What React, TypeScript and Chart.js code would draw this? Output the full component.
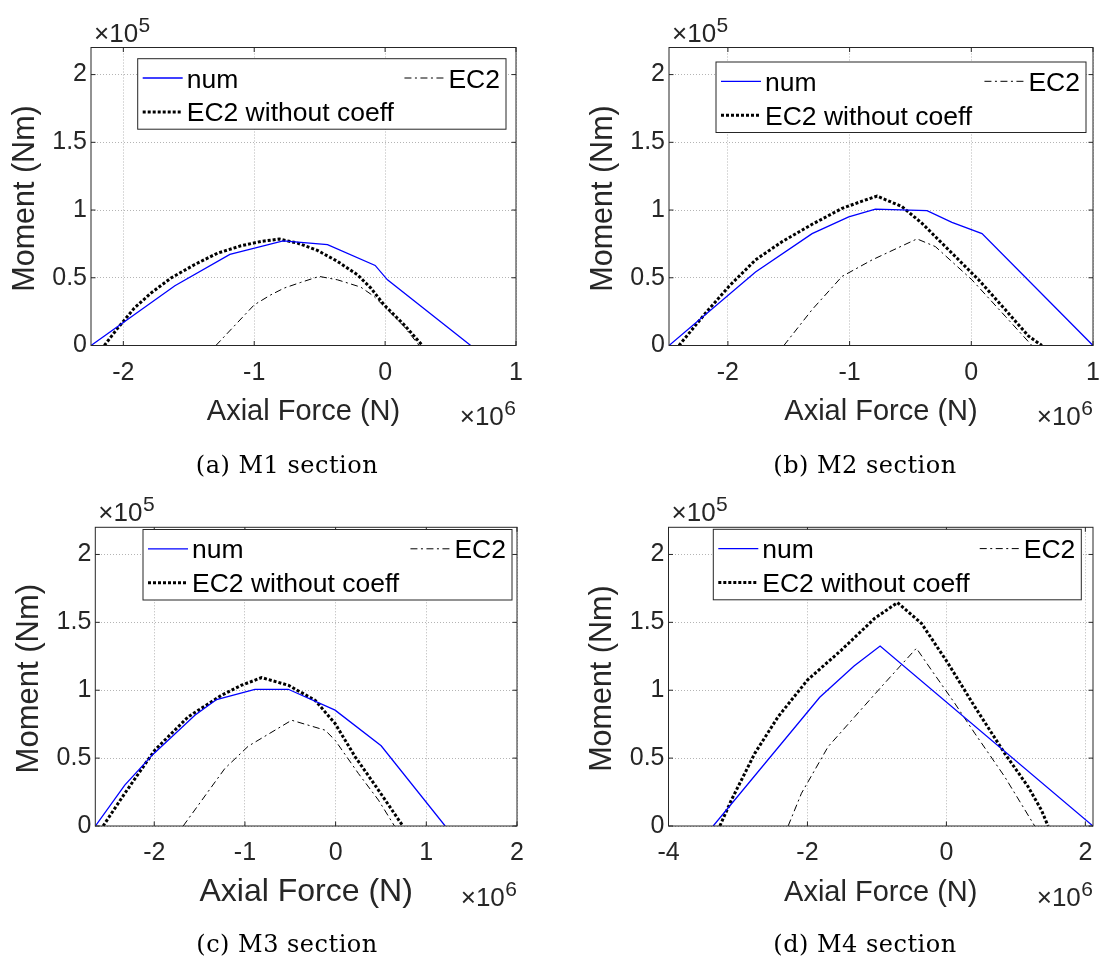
import React, { useEffect, useRef } from "react";
import { Chart, registerables } from "chart.js";

Chart.register(...registerables);

const SANS = '"Liberation Sans", Arial, Helvetica, sans-serif';
const SERIF = '"DejaVu Serif", "Liberation Serif", serif';
const AXIS = "#262626";

// ---------- data (N in 1e6 N, M in 1e5 Nm) ----------
const seriesLabels = ["num", "EC2 without coeff", "EC2"];

const yTicks = [0, 0.5, 1, 1.5, 2];
const yTickLabels = ["0", "0.5", "1", "1.5", "2"];

const m1XTicks = [-2, -1, 0, 1];
const m1XTickLabels = ["-2", "-1", "0", "1"];
const m1NumN = [-2.247, -1.606, -1.186, -0.779, -0.44, -0.076, 0.018, 0.654];
const m1NumM = [0, 0.441, 0.672, 0.773, 0.744, 0.591, 0.485, 0];
const m1EcnN = [-2.145, -2.043, -1.916, -1.789, -1.636, -1.458, -1.28, -1.102, -0.949, -0.809, -0.669, -0.517, -0.364, -0.211, -0.109, -0.008, 0.145, 0.285];
const m1EcnM = [0, 0.128, 0.276, 0.387, 0.498, 0.596, 0.682, 0.736, 0.768, 0.786, 0.756, 0.702, 0.621, 0.522, 0.424, 0.3, 0.153, 0];
const m1EcN = [-1.293, -1.0, -0.873, -0.771, -0.644, -0.504, -0.364, -0.186, -0.084, 0.018, 0.145, 0.26];
const m1EcM = [0, 0.3, 0.374, 0.424, 0.466, 0.51, 0.485, 0.431, 0.362, 0.264, 0.14, 0];

const m2XTicks = [-2, -1, 0, 1];
const m2XTickLabels = ["-2", "-1", "0", "1"];
const m2NumN = [-2.484, -1.773, -1.308, -1.007, -0.788, -0.364, -0.159, 0.088, 1.0];
const m2NumM = [0, 0.542, 0.826, 0.949, 1.007, 0.995, 0.909, 0.826, 0];
const m2EcnN = [-2.402, -2.183, -1.992, -1.773, -1.554, -1.308, -1.062, -0.897, -0.774, -0.569, -0.405, -0.186, 0.06, 0.279, 0.471, 0.58];
const m2EcnM = [0, 0.24, 0.436, 0.632, 0.767, 0.895, 1.012, 1.066, 1.103, 1.025, 0.902, 0.706, 0.485, 0.265, 0.069, 0];
const m2EcN = [-1.54, -1.308, -1.062, -0.815, -0.446, -0.295, 0.005, 0.279, 0.498];
const m2EcM = [0, 0.265, 0.51, 0.632, 0.787, 0.73, 0.485, 0.216, 0];

const m3XTicks = [-2, -1, 0, 1, 2];
const m3XTickLabels = ["-2", "-1", "0", "1", "2"];
const m3NumN = [-2.649, -2.325, -2.012, -1.552, -1.313, -0.89, -0.522, -0.006, 0.502, 1.208];
const m3NumM = [0, 0.301, 0.529, 0.816, 0.931, 1.007, 1.007, 0.853, 0.591, 0];
const m3EcnN = [-2.564, -2.325, -1.994, -1.626, -1.258, -1.037, -0.816, -0.522, -0.227, -0.006, 0.215, 0.472, 0.741];
const m3EcnM = [0, 0.24, 0.559, 0.804, 0.963, 1.037, 1.093, 1.037, 0.926, 0.755, 0.51, 0.265, 0];
const m3EcN = [-1.681, -1.221, -0.963, -0.485, -0.117, -0.006, 0.251, 0.472, 0.649];
const m3EcM = [0, 0.424, 0.588, 0.779, 0.706, 0.632, 0.387, 0.191, 0];

const m4XTicks = [-4, -2, 0, 2];
const m4XTickLabels = ["-4", "-2", "0", "2"];
const m4NumN = [-3.357, -1.823, -1.329, -0.954, 2.11];
const m4NumM = [0, 0.948, 1.178, 1.326, 0];
const m4EcnN = [-3.261, -3.094, -2.758, -2.422, -2.0, -1.511, -1.031, -0.705, -0.36, 0.024, 0.408, 0.839, 1.175, 1.367, 1.463];
const m4EcnM = [0, 0.192, 0.535, 0.805, 1.075, 1.296, 1.53, 1.645, 1.493, 1.198, 0.879, 0.535, 0.29, 0.118, 0];
const m4EcN = [-2.278, -2.086, -1.703, -1.319, -0.935, -0.432, -0.216, 0.12, 0.408, 0.839, 1.271];
const m4EcM = [0, 0.241, 0.584, 0.805, 1.026, 1.309, 1.149, 0.904, 0.683, 0.363, 0];

const xRanges = [
  [-2.247, 1],
  [-2.484, 1],
  [-2.65, 2],
  [-4, 2.11],
];
const yRange = [0, 2.2];
const captions = ["(a) M1 section", "(b) M2 section", "(c) M3 section", "(d) M4 section"];
const xTitle = "Axial Force (N)";
const yTitle = "Moment (Nm)";

// ---------- layout (page pixels) ----------
type Panel = {
  idx: number;
  cx: number; cy: number; cw: number; ch: number;
  L: number; R: number; T: number; B: number;
  legL: number; legT: number; legR: number;
  capX: number; capY: number;
  xlabSize: number; ylabSize: number;
  xTicks: number[]; xTickLabels: string[];
  num: [number[], number[]]; ecn: [number[], number[]]; ec: [number[], number[]];
};

const panels: Panel[] = [
  { idx: 0, cx: 0, cy: 0, cw: 540, ch: 480, L: 91, R: 516, T: 47.5, B: 345.5,
    legL: 137.7, legT: 58.7, legR: 506, capX: 287, capY: 472.7, xlabSize: 29, ylabSize: 30.5,
    xTicks: m1XTicks, xTickLabels: m1XTickLabels, num: [m1NumN, m1NumM], ecn: [m1EcnN, m1EcnM], ec: [m1EcN, m1EcM] },
  { idx: 1, cx: 540, cy: 0, cw: 559, ch: 480, L: 669, R: 1093, T: 47.5, B: 345.5,
    legL: 716, legT: 62, legR: 1086, capX: 865, capY: 472.7, xlabSize: 29, ylabSize: 30.5,
    xTicks: m2XTicks, xTickLabels: m2XTickLabels, num: [m2NumN, m2NumM], ecn: [m2EcnN, m2EcnM], ec: [m2EcN, m2EcM] },
  { idx: 2, cx: 0, cy: 480, cw: 540, ch: 481, L: 95.3, R: 517, T: 527.3, B: 826,
    legL: 143, legT: 529.5, legR: 512, capX: 287, capY: 952, xlabSize: 32, ylabSize: 31,
    xTicks: m3XTicks, xTickLabels: m3XTickLabels, num: [m3NumN, m3NumM], ecn: [m3EcnN, m3EcnM], ec: [m3EcN, m3EcM] },
  { idx: 3, cx: 540, cy: 480, cw: 559, ch: 481, L: 668.5, R: 1093, T: 527.3, B: 826,
    legL: 713.3, legT: 529.3, legR: 1081.3, capX: 865, capY: 952, xlabSize: 29, ylabSize: 30.5,
    xTicks: m4XTicks, xTickLabels: m4XTickLabels, num: [m4NumN, m4NumM], ecn: [m4EcnN, m4EcnM], ec: [m4EcN, m4EcM] },
];

function pts(xs: number[], ys: number[]) {
  return xs.map((x, i) => ({ x, y: ys[i] }));
}

function drawLegendSample(ctx: CanvasRenderingContext2D, ds: any, x0: number, x1: number, y: number) {
  ctx.save();
  ctx.strokeStyle = ds.borderColor;
  ctx.lineWidth = ds.borderWidth;
  ctx.setLineDash(ds.borderDash || []);
  ctx.beginPath();
  ctx.moveTo(x0, y);
  ctx.lineTo(x1, y);
  ctx.stroke();
  ctx.restore();
}

function makeDecor(p: Panel) {
  return {
    id: "decor" + p.idx,
    afterDatasetsDraw(chart: any) {
      const ctx: CanvasRenderingContext2D = chart.ctx;
      const a = chart.chartArea;
      const xs = chart.scales.x;
      const ys = chart.scales.y;
      ctx.save();
      // axes box + inward ticks
      ctx.strokeStyle = AXIS;
      ctx.lineWidth = 1;
      ctx.setLineDash([]);
      const tl = 4.5;
      ctx.beginPath();
      for (const v of p.xTicks) {
        const px = xs.getPixelForValue(v);
        ctx.moveTo(px, a.bottom);
        ctx.lineTo(px, a.bottom - tl);
        ctx.moveTo(px, a.top);
        ctx.lineTo(px, a.top + tl);
      }
      for (const v of yTicks) {
        const py = ys.getPixelForValue(v);
        ctx.moveTo(a.left, py);
        ctx.lineTo(a.left + tl, py);
        ctx.moveTo(a.right, py);
        ctx.lineTo(a.right - tl, py);
      }
      ctx.stroke();
      ctx.strokeRect(a.left, a.top, a.right - a.left, a.bottom - a.top);

      // legend
      const lx = p.legL - p.cx;
      const ty = p.legT - p.cy;
      const rx = p.legR - p.cx;
      const lh = 70.5;
      ctx.fillStyle = "#ffffff";
      ctx.fillRect(lx, ty, rx - lx, lh);
      ctx.strokeStyle = AXIS;
      ctx.lineWidth = 1;
      ctx.strokeRect(lx, ty, rx - lx, lh);
      const dsets = chart.data.datasets;
      ctx.font = `26.5px ${SANS}`;
      ctx.fillStyle = "#000000";
      ctx.textBaseline = "alphabetic";
      const b1 = ty + 28.8;
      const b2 = ty + 62.7;
      drawLegendSample(ctx, dsets[0], lx + 5, lx + 45, b1 - 9.5);
      ctx.textAlign = "left";
      ctx.fillText(dsets[0].label, lx + 49, b1);
      drawLegendSample(ctx, dsets[1], lx + 5, lx + 45, b2 - 9.5);
      ctx.fillText(dsets[1].label, lx + 49, b2);
      const w = ctx.measureText(dsets[2].label).width;
      const tx = rx - 6 - w;
      drawLegendSample(ctx, dsets[2], tx - 44, tx - 4, b1 - 9.5);
      ctx.fillText(dsets[2].label, tx, b1);

      // axis titles
      ctx.fillStyle = AXIS;
      ctx.textAlign = "center";
      ctx.font = `${p.xlabSize}px ${SANS}`;
      ctx.fillText(xTitle, (a.left + a.right) / 2, a.bottom + 74.5);
      ctx.save();
      ctx.translate(a.left - 57.5, (a.top + a.bottom) / 2 + 2);
      ctx.rotate(-Math.PI / 2);
      ctx.font = `${p.ylabSize}px ${SANS}`;
      ctx.textAlign = "center";
      ctx.fillText(yTitle, 0, 0);
      ctx.restore();

      // exponent labels
      ctx.textAlign = "left";
      ctx.font = `26px ${SANS}`;
      const base = "\u00d710";
      const bw = ctx.measureText(base).width;
      ctx.fillText(base, a.left + 3, a.top - 6);
      ctx.font = `21px ${SANS}`;
      ctx.fillText("5", a.left + 3 + bw + 0.5, a.top - 16);
      const ew = ctx.measureText("6").width;
      const xStart = a.right - ew - 0.5 - bw;
      ctx.font = `26px ${SANS}`;
      ctx.fillText(base, xStart, a.bottom + 79.5);
      ctx.font = `21px ${SANS}`;
      ctx.fillText("6", xStart + bw + 0.5, a.bottom + 69.5);

      // caption
      ctx.fillStyle = "#000000";
      ctx.textAlign = "center";
      ctx.font = `24px ${SERIF}`;
      try { (ctx as any).letterSpacing = "0.5px"; } catch (e) {}
      ctx.fillText(captions[p.idx], p.capX - p.cx, p.capY - p.cy);
      try { (ctx as any).letterSpacing = "0px"; } catch (e) {}
      ctx.restore();
    },
  };
}

function PanelChart({ p }: { p: Panel }) {
  const ref = useRef<HTMLCanvasElement | null>(null);
  useEffect(() => {
    if (!ref.current) return;
    const L = p.L - p.cx;
    const R = p.R - p.cx;
    const T = p.T - p.cy;
    const B = p.B - p.cy;
    const chart = new Chart(ref.current, {
      type: "scatter",
      data: {
        datasets: [
          { label: seriesLabels[0], data: pts(p.num[0], p.num[1]), showLine: true, borderColor: "#0000ff", backgroundColor: "#0000ff", borderWidth: 1.3, pointRadius: 0, tension: 0 },
          { label: seriesLabels[1], data: pts(p.ecn[0], p.ecn[1]), showLine: true, borderColor: "#000000", backgroundColor: "#000000", borderWidth: 3, borderDash: [3, 2], pointRadius: 0, tension: 0 },
          { label: seriesLabels[2], data: pts(p.ec[0], p.ec[1]), showLine: true, borderColor: "#000000", backgroundColor: "#000000", borderWidth: 1, borderDash: [7, 3.5, 2, 3.5], pointRadius: 0, tension: 0 },
        ],
      },
      options: {
        responsive: false,
        animation: false,
        devicePixelRatio: 1,
        layout: { padding: { top: T, left: 0, right: p.cw - R, bottom: 0 } },
        plugins: { legend: { display: false }, tooltip: { enabled: false } },
        scales: {
          x: {
            type: "linear",
            min: xRanges[p.idx][0],
            max: xRanges[p.idx][1],
            afterBuildTicks: (axis: any) => { axis.ticks = p.xTicks.map((v) => ({ value: v })); },
            afterFit: (s: any) => { s.height = p.ch - B; s.paddingLeft = 0; s.paddingRight = 0; },
            ticks: {
              autoSkip: false, maxRotation: 0, minRotation: 0, padding: 12.5,
              color: AXIS, font: { family: SANS, size: 25 },
              callback: (v: any) => { const i = p.xTicks.indexOf(Number(v)); return i >= 0 ? p.xTickLabels[i] : ""; },
            },
            grid: { color: "#b4b4b4", lineWidth: 1, drawTicks: false },
            border: { display: false, dash: [1, 2] },
          },
          y: {
            type: "linear",
            min: yRange[0],
            max: yRange[1],
            afterBuildTicks: (axis: any) => { axis.ticks = yTicks.map((v) => ({ value: v })); },
            afterFit: (s: any) => { s.width = L; s.paddingTop = 0; s.paddingBottom = 0; },
            ticks: {
              autoSkip: false, padding: 4, color: AXIS, font: { family: SANS, size: 25 },
              callback: (v: any) => { const i = yTicks.indexOf(Number(v)); return i >= 0 ? yTickLabels[i] : ""; },
            },
            grid: { color: "#b4b4b4", lineWidth: 1, drawTicks: false },
            border: { display: false, dash: [1, 2] },
          },
        },
      },
      plugins: [makeDecor(p)],
    } as any);
    return () => chart.destroy();
  }, [p]);
  return (
    <div style={{ position: "absolute", left: p.cx, top: p.cy, width: p.cw, height: p.ch }}>
      <canvas ref={ref} width={p.cw} height={p.ch} style={{ width: p.cw, height: p.ch, display: "block" }} />
    </div>
  );
}

export default function App() {
  return (
    <div style={{ position: "absolute", left: 0, top: 0, width: 1099, height: 961, background: "#ffffff", overflow: "hidden" }}>
      {panels.map((p) => (
        <PanelChart key={p.idx} p={p} />
      ))}
    </div>
  );
}
